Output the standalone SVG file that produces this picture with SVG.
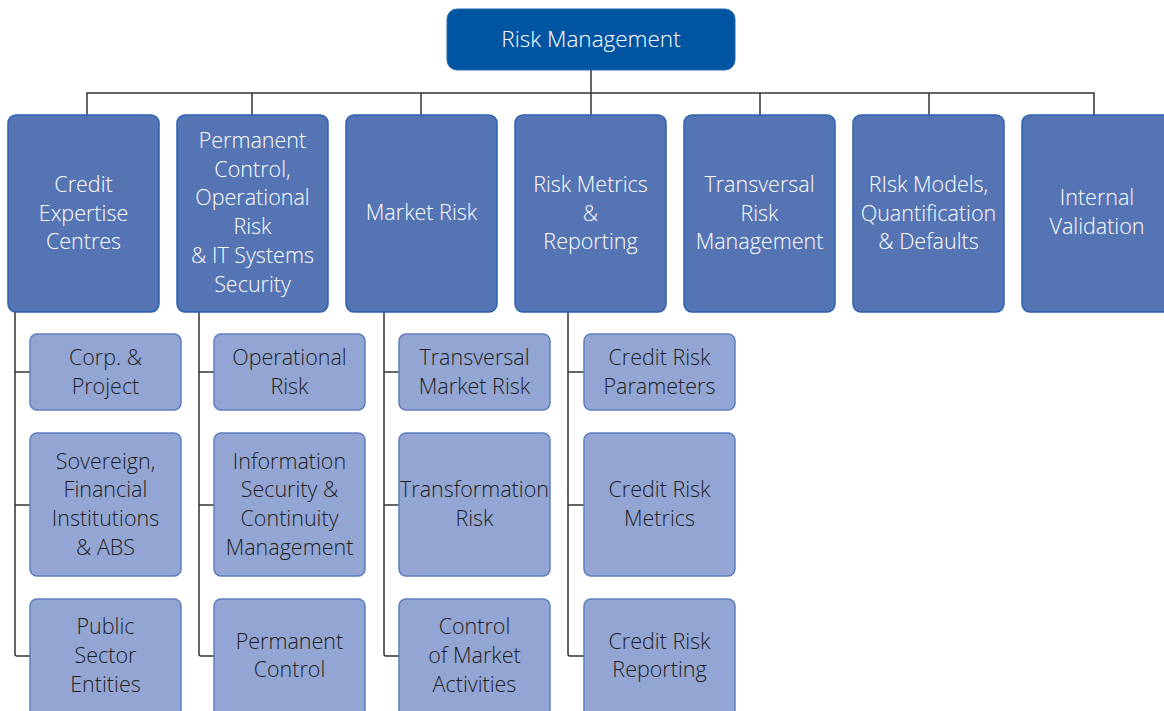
<svg xmlns="http://www.w3.org/2000/svg" width="1164" height="711" viewBox="0 0 1164 711">
<style>
.top{fill:#0055a3;stroke:#2a69b0;stroke-width:1}
.l1{fill:#5574b4;stroke:#2d62ae;stroke-width:1.5}
.l2{fill:#93a6d3;stroke:#5d7dc0;stroke-width:1.5}
.tw{font-family:"Open Sans","Noto Sans",sans-serif;font-weight:300;font-size:21.5px;fill:#ffffff;text-anchor:middle}
.td{font-family:"Open Sans","Noto Sans",sans-serif;font-weight:300;font-size:21.5px;fill:#1e1e1e;text-anchor:middle}
.big{font-size:22.5px}
.ln{fill:none;stroke:#333333;stroke-width:1.5}
</style>
<rect width="1164" height="711" fill="#ffffff"/>
<g id="connectors">
<path class="ln" d="M591 70V115M87 115V93H1094V115M252 93V115M421 93V115M760 93V115M929 93V115"/>
<path class="ln" d="M15 312V654Q15 656 17 656H30M15 372H30M15 505H30"/>
<path class="ln" d="M199 312V654Q199 656 201 656H214M199 372H214M199 505H214"/>
<path class="ln" d="M384 312V654Q384 656 386 656H399M384 372H399M384 505H399"/>
<path class="ln" d="M568 312V654Q568 656 570 656H584M568 372H584M568 505H584"/>
</g>
<g id="risk-management">
<rect class="top" x="447" y="9" width="288" height="61" rx="10"/>
<text class="tw big" x="591" y="47">Risk Management</text>
</g>
<g id="credit-expertise">
<rect class="l1" x="8" y="115" width="151" height="197" rx="8"/>
<text class="tw" x="83.5" y="192">Credit</text>
<text class="tw" x="83.5" y="220.5">Expertise</text>
<text class="tw" x="83.5" y="249">Centres</text>
</g>
<g id="permanent-control">
<rect class="l1" x="177" y="115" width="151" height="197" rx="8"/>
<text class="tw" x="252.5" y="148">Permanent</text>
<text class="tw" x="252.5" y="177">Control,</text>
<text class="tw" x="252.5" y="205">Operational</text>
<text class="tw" x="252.5" y="234">Risk</text>
<text class="tw" x="252.5" y="263">&amp; IT Systems</text>
<text class="tw" x="252.5" y="292">Security</text>
</g>
<g id="market-risk">
<rect class="l1" x="346" y="115" width="151" height="197" rx="8"/>
<text class="tw" x="421.5" y="220">Market Risk</text>
</g>
<g id="risk-metrics">
<rect class="l1" x="515" y="115" width="151" height="197" rx="8"/>
<text class="tw" x="590.5" y="192">Risk Metrics</text>
<text class="tw" x="590.5" y="220.5">&amp;</text>
<text class="tw" x="590.5" y="249">Reporting</text>
</g>
<g id="transversal-risk">
<rect class="l1" x="684" y="115" width="151" height="197" rx="8"/>
<text class="tw" x="759.5" y="192">Transversal</text>
<text class="tw" x="759.5" y="220.5">Risk</text>
<text class="tw" x="759.5" y="249">Management</text>
</g>
<g id="risk-models">
<rect class="l1" x="853" y="115" width="151" height="197" rx="8"/>
<text class="tw" x="928.5" y="192">RIsk Models,</text>
<text class="tw" x="928.5" y="220.5">Quantification</text>
<text class="tw" x="928.5" y="249">&amp; Defaults</text>
</g>
<g id="internal-validation">
<rect class="l1" x="1022" y="115" width="151" height="197" rx="8"/>
<text class="tw" x="1097" y="205">Internal</text>
<text class="tw" x="1097" y="234">Validation</text>
</g>
<g id="corp-project">
<rect class="l2" x="30" y="334" width="151" height="76" rx="7"/>
<text class="td" x="105.5" y="365">Corp. &amp;</text>
<text class="td" x="105.5" y="394">Project</text>
</g>
<g id="sovereign">
<rect class="l2" x="30" y="433" width="151" height="143" rx="7"/>
<text class="td" x="105.5" y="469">Sovereign,</text>
<text class="td" x="105.5" y="497">Financial</text>
<text class="td" x="105.5" y="526">Institutions</text>
<text class="td" x="105.5" y="555">&amp; ABS</text>
</g>
<g id="public-sector">
<rect class="l2" x="30" y="599" width="151" height="130" rx="7"/>
<text class="td" x="105.5" y="634">Public</text>
<text class="td" x="105.5" y="663">Sector</text>
<text class="td" x="105.5" y="692">Entities</text>
</g>
<g id="operational-risk">
<rect class="l2" x="214" y="334" width="151" height="76" rx="7"/>
<text class="td" x="289.5" y="365">Operational</text>
<text class="td" x="289.5" y="394">Risk</text>
</g>
<g id="information-security">
<rect class="l2" x="214" y="433" width="151" height="143" rx="7"/>
<text class="td" x="289.5" y="469">Information</text>
<text class="td" x="289.5" y="497">Security &amp;</text>
<text class="td" x="289.5" y="526">Continuity</text>
<text class="td" x="289.5" y="555">Management</text>
</g>
<g id="permanent-control-sub">
<rect class="l2" x="214" y="599" width="151" height="130" rx="7"/>
<text class="td" x="289.5" y="649">Permanent</text>
<text class="td" x="289.5" y="677">Control</text>
</g>
<g id="transversal-market-risk">
<rect class="l2" x="399" y="334" width="151" height="76" rx="7"/>
<text class="td" x="474.5" y="365">Transversal</text>
<text class="td" x="474.5" y="394">Market Risk</text>
</g>
<g id="transformation-risk">
<rect class="l2" x="399" y="433" width="151" height="143" rx="7"/>
<text class="td" x="474.5" y="497">Transformation</text>
<text class="td" x="474.5" y="526">Risk</text>
</g>
<g id="control-market">
<rect class="l2" x="399" y="599" width="151" height="130" rx="7"/>
<text class="td" x="474.5" y="634">Control</text>
<text class="td" x="474.5" y="663">of Market</text>
<text class="td" x="474.5" y="692">Activities</text>
</g>
<g id="credit-risk-parameters">
<rect class="l2" x="584" y="334" width="151" height="76" rx="7"/>
<text class="td" x="659.5" y="365">Credit Risk</text>
<text class="td" x="659.5" y="394">Parameters</text>
</g>
<g id="credit-risk-metrics">
<rect class="l2" x="584" y="433" width="151" height="143" rx="7"/>
<text class="td" x="659.5" y="497">Credit Risk</text>
<text class="td" x="659.5" y="526">Metrics</text>
</g>
<g id="credit-risk-reporting">
<rect class="l2" x="584" y="599" width="151" height="130" rx="7"/>
<text class="td" x="659.5" y="649">Credit Risk</text>
<text class="td" x="659.5" y="677">Reporting</text>
</g>
</svg>
